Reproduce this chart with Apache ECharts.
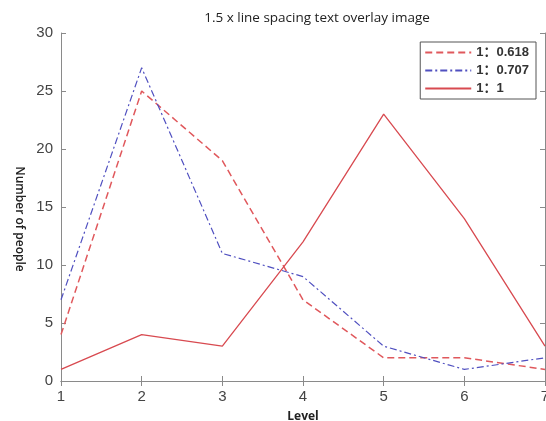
<!DOCTYPE html>
<html><head><meta charset="utf-8">
<script src="https://cdn.jsdelivr.net/npm/echarts@6/dist/echarts.min.js"></script>
<style>html,body{margin:0;padding:0;background:#fff}#c{width:546px;height:421px}</style>
</head><body><div id="c"></div>
<script>
const levels = [1, 2, 3, 4, 5, 6, 7];
const ratio0618 = [4, 25, 19, 7, 2, 2, 1];
const ratio0707 = [7, 27, 11, 9, 3, 1, 2];
const ratio1 = [1, 4, 3, 12, 23, 14, 3];
const seriesNames = ['1：0.618', '1：0.707', '1：1'];
const titleText = '1.5 x line spacing text overlay image';

const pairs = arr => levels.map((l, i) => [l, arr[i]]);
const font = "'Liberation Sans', 'Noto Sans CJK SC', sans-serif";
const axisCol = '#8a8a8a';
const chart = echarts.init(document.getElementById('c'));
const baseAxis = {
  axisLine: { show: true, lineStyle: { color: axisCol, width: 1 } },
  axisTick: { show: true, inside: true, length: 5, lineStyle: { color: axisCol } },
  splitLine: { show: false }
};
chart.setOption({
  animation: false,
  backgroundColor: '#fff',
  title: { text: titleText, left: 312, top: 6, textAlign: 'center',
    textStyle: { fontSize: 13.5, fontWeight: 'normal', color: '#222', fontFamily: "'Open Sans', sans-serif" } },
  grid: { left: 61, right: 1, top: 33, bottom: 40, outerBoundsMode: 'none', containLabel: false },
  legend: {
    right: 10, top: 42, orient: 'vertical', itemWidth: 46, itemHeight: 12, itemGap: 5,
    borderColor: '#555', borderWidth: 1, padding: [4, 7, 4, 4], backgroundColor: '#fff',
    itemStyle: { opacity: 0 },
    textStyle: { fontSize: 13, color: '#333', fontFamily: font, fontWeight: 'bold' },
    data: seriesNames
  },
  xAxis: [
    Object.assign({ type: 'value', min: 1, max: 7, interval: 1, name: 'Level', nameLocation: 'middle', nameGap: 30,
      nameTextStyle: { fontSize: 12, color: '#222', fontFamily: "'Open Sans', sans-serif", fontWeight: 'bold' },
      axisLabel: { fontSize: 15, color: '#444', fontFamily: font, margin: 8 } }, baseAxis),
    Object.assign({ type: 'value', position: 'top', min: 1, max: 7, interval: 1, axisLabel: { show: false } }, baseAxis)
  ],
  yAxis: [
    Object.assign({ type: 'value', min: 0, max: 30, interval: 5, name: 'Number of people', nameLocation: 'middle', nameGap: 36, nameRotate: -90,
      nameTextStyle: { fontSize: 12, color: '#222', fontFamily: "'Open Sans', sans-serif", fontWeight: 600, padding: [0, 0, 0, 24] },
      axisLabel: { fontSize: 15, color: '#444', fontFamily: font, margin: 8 } }, baseAxis),
    Object.assign({ type: 'value', position: 'right', min: 0, max: 30, interval: 5, axisLabel: { show: false } }, baseAxis)
  ],
  series: [
    { name: seriesNames[0], type: 'line', data: pairs(ratio0618), symbol: 'none',
      lineStyle: { color: '#e0585c', width: 1.5, type: [7, 4] }, itemStyle: { color: '#e0585c' } },
    { name: seriesNames[1], type: 'line', data: pairs(ratio0707), symbol: 'none',
      lineStyle: { color: '#5050c0', width: 1.2, type: [7, 3, 2, 3] }, itemStyle: { color: '#5050c0' } },
    { name: seriesNames[2], type: 'line', data: pairs(ratio1), symbol: 'none',
      lineStyle: { color: '#d84a50', width: 1.3 }, itemStyle: { color: '#d84a50' } }
  ]
});
</script></body></html>
